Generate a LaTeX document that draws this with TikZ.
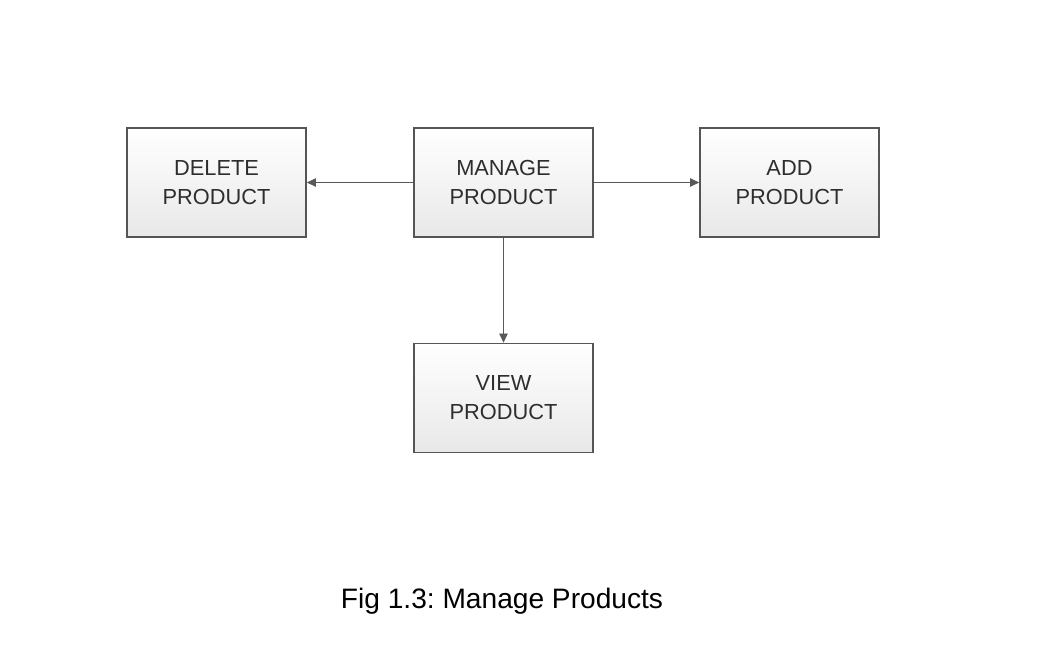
\documentclass[tikz,border=0pt]{standalone}
\usepackage{fontspec}
\setmainfont{Liberation Sans}
\usetikzlibrary{arrows.meta}
\frenchspacing

\definecolor{boxline}{HTML}{555555}
\definecolor{boxtext}{HTML}{2E2E2E}

\begin{document}
\begin{tikzpicture}[x=0.025cm, y=-0.025cm,
	procbox/.style={draw=boxline, line width=1.1pt, top color=white, bottom color=black!9,
		minimum width=4.475cm, minimum height=2.725cm, align=center, inner sep=0pt,
		text=boxtext, font=\fontsize{15.5}{20.6}\selectfont},
	link/.style={draw=black!65, line width=0.6pt, -{Triangle[length=6.5pt, width=6pt]}}]
		\useasboundingbox (0,0) rectangle (1053,645);
		
		\node[procbox] (delete) at (216.5, 182.5) {DELETE\\PRODUCT};
		\node[procbox] (manage) at (503.5, 182.5) {MANAGE\\PRODUCT};
		\node[procbox] (add) at (789.5, 182.5) {ADD\\PRODUCT};
		\node[procbox] (view) at (503.5, 398) {VIEW\\PRODUCT};
		
		\node[font=\fontsize{20}{24}\selectfont, anchor=base] (caption) at (502, 608) {Fig 1.3: Manage Products};
		
		\draw[link] (manage) -- (delete);
		\draw[link] (manage) -- (add);
		\draw[link] (manage) -- (view);
\end{tikzpicture}
\end{document}
